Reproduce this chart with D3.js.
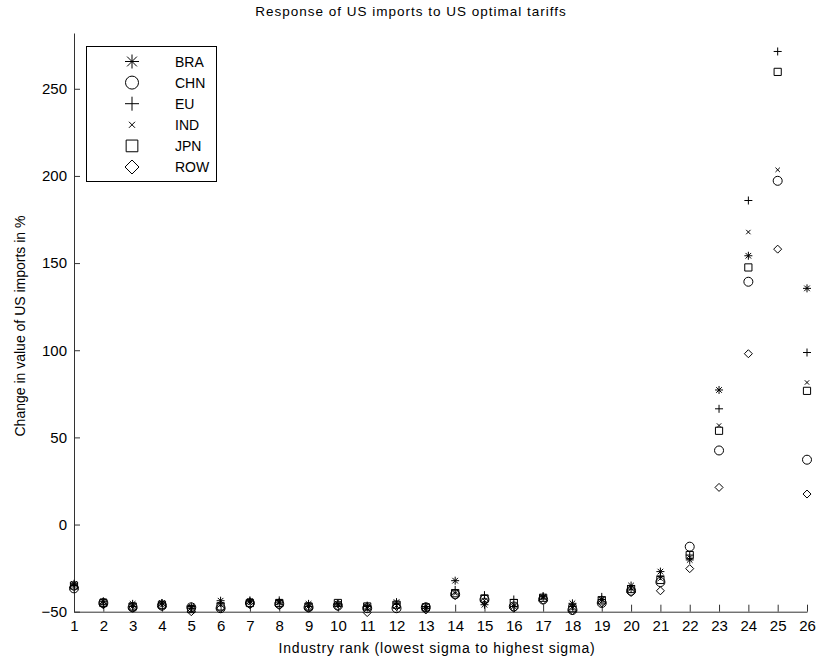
<!DOCTYPE html>
<html><head><meta charset="utf-8">
<script src="https://cdn.jsdelivr.net/npm/d3@7"></script>
<style>
html,body{margin:0;padding:0;background:#fff;}
svg{display:block;font-family:Arial,"Liberation Sans",Helvetica,sans-serif;}
</style></head>
<body>
<svg id="chart" width="820" height="664"></svg>
<script>
const industries = [1,2,3,4,5,6,7,8,9,10,11,12,13,14,15,16,17,18,19,20,21,22,23,24,25,26];
const seriesNames = ["BRA","CHN","EU","IND","JPN","ROW"];
const markerTypes = ["star","circle","plus","cross","square","diamond"];
const BRA = [-34,-44,-45.5,-45,-47,-43.7,-44,-44.5,-45.5,-45.5,-47,-44.5,-47,-32.2,-46,-47,-41.5,-45.2,-43,-35,-27,-20.3,77.2,154.2,null,135.5];
const CHN = [-36.6,-45,-47.5,-46.5,-47.5,-48,-45,-45.5,-47.5,-46.5,-48,-48,-47.5,-40,-43,-47,-43,-49,-45,-38,-33,-12.7,42.5,139.3,197.2,37.2];
const EU  = [-35,-46,-47,-45,-48,-45,-43.5,-43.5,-47,-45.5,-46.5,-45.5,-48,-37.5,-40.5,-43,-41,-47,-41.5,-37,-29.5,-17.5,66.4,185.9,271.4,98.7];
const IND = [-35,-45,-47,-46,-49,-46,-45,-45,-47,-46,-48,-46.5,-48,-39.5,-43.5,-46,-42,-48,-44,-36.5,-31,-19,56.8,167.8,203.5,81.5];
const JPN = [-35,-45,-47,-46,-48.5,-47,-45,-45,-47,-45,-47,-46,-47.5,-39.4,-42.5,-45,-42,-48,-43.5,-37,-31.8,-17.5,53.8,147.5,259.7,76.7];
const ROW = [-36,-46,-48,-47,-50,-48,-46,-46.5,-48,-47,-50.5,-47,-49,-40.8,-44,-48,-43.5,-49.5,-45,-39,-38,-25.3,21.3,98,158,17.5];
const yTicks = [-50,0,50,100,150,200,250];
const title = "Response of US imports to US optimal tariffs";
const xLabel = "Industry rank (lowest sigma to highest sigma)";
const yLabel = "Change in value of US imports in %";

const seriesValues = [BRA,CHN,EU,IND,JPN,ROW];

const svg = d3.select("#chart");
const x = d3.scaleLinear().domain([1,26]).range([74,807]);
const y = d3.scaleLinear().domain([-50,282]).range([611.7,33]);

function markerPath(type, s){
  const h = s/2;
  switch(type){
    case "circle": return `M${h},0A${h},${h} 0 1,1 ${-h},0A${h},${h} 0 1,1 ${h},0Z`;
    case "plus": return `M${-h},0H${h}M0,${-h}V${h}`;
    case "cross": { const c = h*0.55; return `M${-c},${-c}L${c},${c}M${-c},${c}L${c},${-c}`; }
    case "square": { const q = h*0.9; return `M${-q},${-q}H${q}V${q}H${-q}Z`; }
    case "diamond": return `M0,${-h}L${h},0L0,${h}L${-h},0Z`;
    case "star": { const c = h*0.7; return `M${-h},0H${h}M0,${-h}V${h}M${-c},${-c}L${c},${c}M${-c},${c}L${c},${-c}`; }
  }
}

const axColor = "#333";
const gx = svg.append("g").attr("transform","translate(0,611.7)")
  .call(d3.axisBottom(x).tickValues(industries).tickFormat(d3.format("d")).tickSizeInner(-7).tickSizeOuter(0).tickPadding(9));
const gy = svg.append("g").attr("transform","translate(74,0)")
  .call(d3.axisLeft(y).tickValues(yTicks).tickSizeInner(-6).tickSizeOuter(0).tickPadding(7));
[gx,gy].forEach(g=>{
  g.select(".domain").attr("stroke",axColor).attr("stroke-width",1);
  g.selectAll(".tick line").attr("stroke",axColor).attr("stroke-width",1);
  g.selectAll(".tick text").attr("fill","#000").style("font-size","15px").style("font-family","Arial,'Liberation Sans',sans-serif");
});

seriesValues.forEach((vals,si)=>{
  const type = markerTypes[si];
  const size = type==="circle" ? 9 : 8;
  svg.append("g").selectAll("path").data(industries.map((d,i)=>({x:d,v:vals[i]})).filter(d=>d.v!==null))
    .join("path")
    .attr("transform",d=>`translate(${x(d.x)},${y(d.v)})`)
    .attr("d",markerPath(type,size))
    .attr("fill","none").attr("stroke","#000").attr("stroke-width",1);
});

const leg = svg.append("g");
leg.append("rect").attr("x",86.5).attr("y",46.5).attr("width",130).attr("height",135)
  .attr("fill","#fff").attr("stroke","#000").attr("stroke-width",1);
seriesNames.forEach((n,i)=>{
  const cy = 61.5 + i*21.1;
  const type = markerTypes[i];
  const size = type==="cross" ? 11 : (type==="circle" ? 13 : (type==="square" ? 13 : 14));
  leg.append("path").attr("transform",`translate(132,${cy})`).attr("d",markerPath(type,size))
    .attr("fill","none").attr("stroke","#000").attr("stroke-width",1);
  leg.append("text").attr("x",175).attr("y",cy).attr("dy","0.36em").style("font-size","14px").text(n);
});

svg.append("text").attr("x",411).attr("y",16).attr("text-anchor","middle")
  .style("font-size","13.5px").style("letter-spacing","1px").text(title);
svg.append("text").attr("x",437).attr("y",653).attr("text-anchor","middle")
  .style("font-size","14px").style("letter-spacing","0.8px").text(xLabel);
svg.append("text").attr("transform","translate(25,326) rotate(-90)").attr("text-anchor","middle")
  .style("font-size","14px").text(yLabel);
</script>
</body></html>
